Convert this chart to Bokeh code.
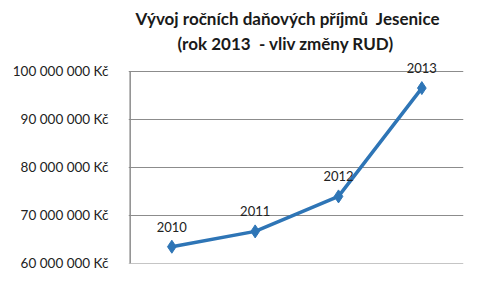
from bokeh.plotting import figure
from bokeh.models import ColumnDataSource, FixedTicker, Label, Range1d, Title
from bokeh.embed import file_html
from bokeh.resources import INLINE

years = ["2010", "2011", "2012", "2013"]
revenue = [63400000, 66600000, 73900000, 96500000]
y_ticks = [60000000, 70000000, 80000000, 90000000, 100000000]
y_tick_labels = ["60 000 000 Kč", "70 000 000 Kč", "80 000 000 Kč", "90 000 000 Kč", "100 000 000 Kč"]
title_lines = ["Vývoj ročních daňových příjmů \u00a0Jesenice", "(rok 2013 \u00a0- vliv změny RUD)"]

xpos = [i + 0.5 for i in range(len(years))]
src = ColumnDataSource(data=dict(x=xpos, y=revenue, lab=years))

y_lo, y_hi = 59900000, 103300000
p = figure(width=484, height=284, x_range=Range1d(-0.02, len(years)), y_range=Range1d(y_lo, y_hi),
           output_backend="svg", toolbar_location=None,
           min_border_left=128, min_border_right=21, min_border_top=55, min_border_bottom=21)
p.outline_line_color = None
p.background_fill_color = "white"
p.border_fill_color = "white"

# title: first Title added sits farthest from the frame in this layout
p.title.text = title_lines[0]
p.title.align = "left"
p.title.offset = 7
p.title.text_font = "Lato"
p.title.text_font_style = "bold"
p.title.text_font_size = "17px"
p.title.text_color = "#1a1a1a"
p.title.text_line_height = 0.8
p.title.standoff = 0
p.add_layout(Title(text=title_lines[1], align="left", offset=49, text_font="Lato",
                   text_font_style="bold", text_font_size="17px", text_color="#1a1a1a",
                   text_line_height=0.8, standoff=4), "above")

p.xaxis.visible = False
p.xgrid.visible = False
p.ygrid.grid_line_color = "#8c8c8c"
p.ygrid.grid_line_width = 1.2

ax = p.yaxis[0]
ax.ticker = FixedTicker(ticks=y_ticks)
ax.major_label_overrides = {t: l for t, l in zip(y_ticks, y_tick_labels)}
ax.major_tick_line_color = None
ax.minor_tick_line_color = None
ax.axis_line_color = None
ax.major_label_standoff = 14
ax.major_label_text_font = "Lato"
ax.major_label_text_font_size = "13.5px"
ax.major_label_text_color = "#222222"

# vertical axis line from the lowest to the highest tick
p.segment(x0=[0], y0=[y_lo], x1=[0], y1=[y_ticks[-1]], line_color="#8c8c8c", line_width=1.5)

p.line("x", "y", source=src, line_color="#2e75b6", line_width=3.5)
p.scatter("x", "y", source=src, marker="diamond", size=13, fill_color="#2e75b6", line_color="#2e75b6")
for xv, yv, lab in zip(xpos, revenue, years):
    p.add_layout(Label(x=xv, y=yv, text=lab, text_align="center", text_baseline="middle",
                       y_offset=20, text_font="Lato", text_font_size="13px", text_color="#222222"))

open("out.html", "w").write(file_html(p, INLINE))
